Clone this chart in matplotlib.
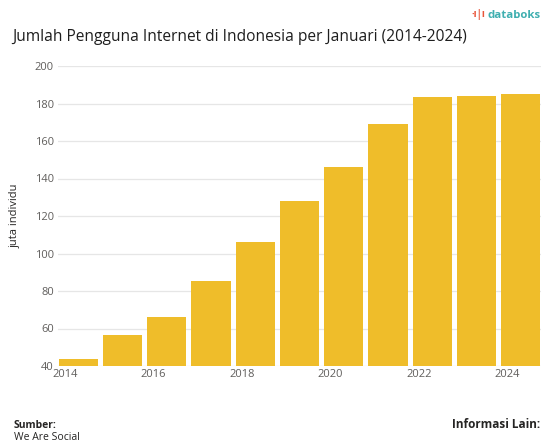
import numpy as np
import matplotlib
matplotlib.use('Agg')
import matplotlib.pyplot as plt

### data ###
years = [2014, 2015, 2016, 2017, 2018, 2019, 2020, 2021, 2022, 2023, 2024]
users = [43.6, 56.7, 66.3, 85.2, 106.0, 128.0, 146.0, 169.2, 183.3, 184.2, 185.1]
xticks = [2014, 2016, 2018, 2020, 2022, 2024]
yticks = [40, 60, 80, 100, 120, 140, 160, 180, 200]
#====================

plt.rcParams['font.family'] = ['Open Sans', 'DejaVu Sans']

W, H = 544, 447
fig = plt.figure(figsize=(W / 100, H / 100), dpi=100)
ax = fig.add_axes([58 / W, 1 - 366 / H, (541 - 58) / W, (366 - 66) / H])

# bars sit a bit right of the year tick, like a date axis
ax.bar(np.array(years) + 0.3, np.array(users) - 40, bottom=40, width=0.89,
       color='#EFBD2A', zorder=2)

ax.set_xlim(2013.84, 2024.76)
ax.set_ylim(40, 200)
ax.set_xticks(xticks)
ax.set_xticklabels([str(x) for x in xticks])
ax.set_yticks(yticks)
ax.grid(axis='y', color='#E6E6E6', linewidth=0.9, zorder=0)
for s in ax.spines.values():
    s.set_visible(False)
ax.tick_params(length=0, labelsize=8, colors='#605E5C', pad=3)
ax.tick_params(axis='x', pad=2)
ax.set_ylabel('juta individu', fontsize=8, color='#252423', labelpad=10)

fig.text(12 / W, 1 - 37 / H, 'Jumlah Pengguna Internet di Indonesia per Januari (2014-2024)',
         fontsize=11.2, color='#1E1E1E', va='center', ha='left')
fig.text(541 / W, 1 - 15 / H, 'databoks', fontsize=8.2, fontweight='bold',
         color='#3FAFB0', va='center', ha='right')
fig.text(485 / W, 1 - 14 / H, '·ı|ı', fontsize=7, fontweight='bold',
         color='#E8553A', va='center', ha='right')

fig.text(14 / W, 1 - 425 / H, 'Sumber:', fontsize=7.5, fontweight='bold', color='#252423', va='center')
fig.text(14 / W, 1 - 438 / H, 'We Are Social', fontsize=7.5, color='#252423', va='center')
fig.text(540 / W, 1 - 425 / H, 'Informasi Lain:', fontsize=8.5, fontweight='bold',
         color='#252423', va='center', ha='right')

fig.savefig('out.png', dpi=100)
